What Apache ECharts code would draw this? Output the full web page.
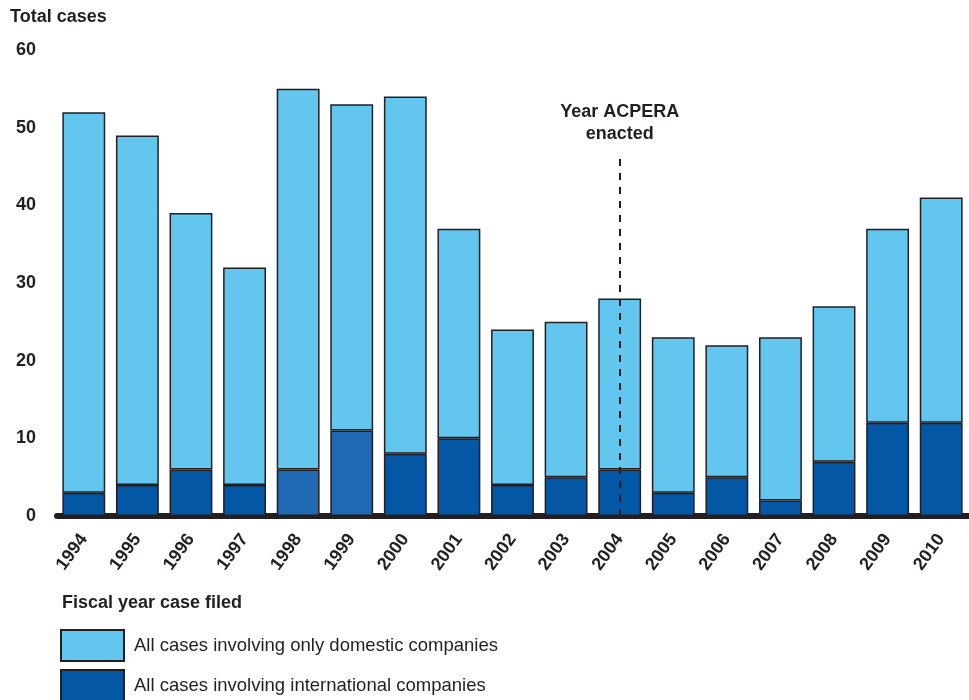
<!DOCTYPE html>
<html>
<head>
<meta charset="utf-8">
<script src="https://cdn.jsdelivr.net/npm/echarts@6/dist/echarts.min.js"></script>
<style>html,body{margin:0;padding:0;background:#fff}#c{width:969px;height:700px}</style>
</head>
<body>
<div id="c"></div>
<script>
const years = ['1994','1995','1996','1997','1998','1999','2000','2001','2002','2003','2004','2005','2006','2007','2008','2009','2010'];
const international = [3, 4, 6, 4, 6, 11, 8, 10, 4, 5, 6, 3, 5, 2, 7, 12, 12];
const domestic = [49, 45, 33, 28, 49, 42, 46, 27, 20, 20, 22, 20, 17, 21, 20, 25, 29];
const highlightYears = ['1998', '1999'];
const yTicks = [0, 10, 20, 30, 40, 50, 60];
const acperaYear = '2004';
const acperaLineTop = 46.5;
const seriesNames = ['All cases involving international companies', 'All cases involving only domestic companies'];

const ink = '#231f20';
const light = '#63c6ef';
const dark = '#0357a5';
const mid = '#1f68b2';
const font = '"Liberation Sans", Arial, sans-serif';

const legendBase = {
  orient: 'vertical', left: 60, padding: 0,
  itemWidth: 63, itemHeight: 31, itemGap: 8,
  selectedMode: false, icon: 'rect',
  textStyle: { fontSize: 18.5, color: ink, fontFamily: font, padding: [0, 0, 0, 5] }
};

const chart = echarts.init(document.getElementById('c'));
chart.setOption({
  animation: false,
  textStyle: { fontFamily: font, color: ink },
  grid: { left: 57, right: 1, top: 50, bottom: 184, containLabel: false },
  xAxis: {
    type: 'category',
    data: years,
    axisLine: { lineStyle: { color: ink, width: 6 } },
    axisTick: { show: false },
    axisLabel: { rotate: 54, fontSize: 18, fontWeight: 'bold', color: ink, margin: 20, fontFamily: font, interval: 0 }
  },
  yAxis: {
    type: 'value',
    min: yTicks[0], max: yTicks[yTicks.length - 1], interval: 10,
    splitLine: { show: false },
    axisLine: { show: false },
    axisTick: { show: false },
    axisLabel: { fontSize: 18, fontWeight: 'bold', color: ink, margin: 21, fontFamily: font }
  },
  legend: [
    Object.assign({}, legendBase, { top: 629, data: [seriesNames[1]] }),
    Object.assign({}, legendBase, { top: 669, data: [seriesNames[0]] })
  ],
  graphic: [
    { type: 'text', left: 10, top: 8, style: { text: 'Total cases', fontSize: 18, fontWeight: 'bold', fill: ink, fontFamily: font } },
    { type: 'text', left: 62, top: 594, style: { text: 'Fiscal year case filed', fontSize: 18, fontWeight: 'bold', fill: ink, fontFamily: font } }
  ],
  series: [
    {
      name: seriesNames[0],
      type: 'bar', stack: 'total', barCategoryGap: '20%',
      itemStyle: { color: dark, borderColor: ink, borderWidth: 1.5 },
      data: international.map((v, i) => highlightYears.includes(years[i]) ? { value: v, itemStyle: { color: mid } } : v)
    },
    {
      name: seriesNames[1],
      type: 'bar', stack: 'total', barCategoryGap: '20%',
      itemStyle: { color: light, borderColor: ink, borderWidth: 1.5 },
      data: domestic,
      markLine: {
        silent: true, symbol: 'none',
        lineStyle: { color: ink, width: 2, type: [7, 7] },
        label: {
          show: true, position: 'end', distance: 10,
          formatter: 'Year ACPERA\nenacted',
          fontSize: 18, fontWeight: 'bold', color: ink, lineHeight: 22, fontFamily: font
        },
        data: [[{ xAxis: acperaYear, yAxis: 0 }, { xAxis: acperaYear, yAxis: acperaLineTop }]]
      }
    }
  ]
});
</script>
</body>
</html>
